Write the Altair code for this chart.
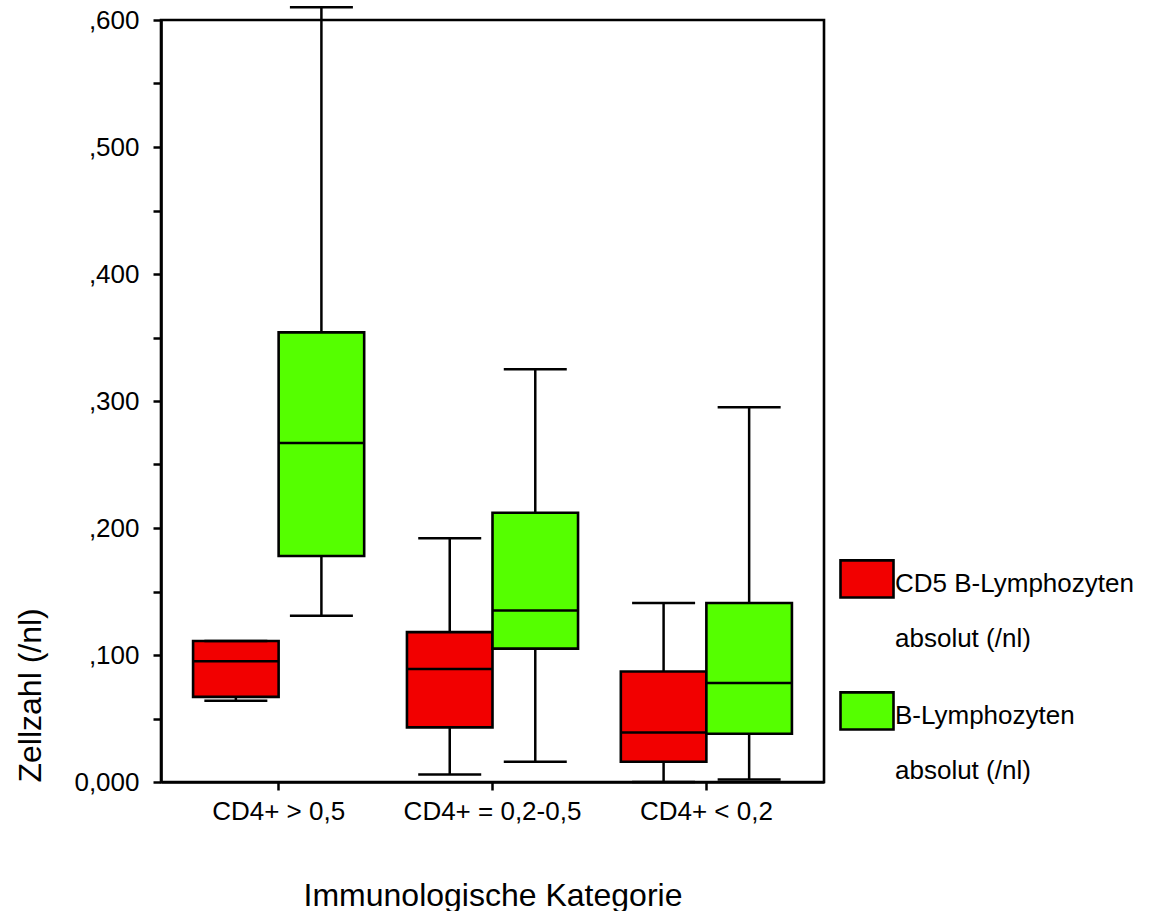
import altair as alt
import pandas as pd

categories = ["CD4+ > 0,5", "CD4+ = 0,2-0,5", "CD4+ < 0,2"]
series = ["CD5 B-Lymphozyten absolut (/nl)", "B-Lymphozyten absolut (/nl)"]
colors = ["#F20000", "#55FF00"]

# box statistics per series, one value per category
cd5_low = [0.064, 0.006, 0.000]
cd5_q1 = [0.067, 0.043, 0.016]
cd5_med = [0.095, 0.089, 0.039]
cd5_q3 = [0.111, 0.118, 0.087]
cd5_high = [0.111, 0.192, 0.141]

b_low = [0.131, 0.016, 0.002]
b_q1 = [0.178, 0.105, 0.038]
b_med = [0.267, 0.135, 0.078]
b_q3 = [0.354, 0.212, 0.141]
b_high = [0.610, 0.325, 0.295]

y_ticks = [0.0, 0.05, 0.1, 0.15, 0.2, 0.25, 0.3, 0.35, 0.4, 0.45, 0.5, 0.55, 0.6]

rows = []
for s, (lo, q1, md, q3, hi) in zip(
    series,
    [(cd5_low, cd5_q1, cd5_med, cd5_q3, cd5_high), (b_low, b_q1, b_med, b_q3, b_high)],
):
    for i, c in enumerate(categories):
        rows.append({"cat": c, "series": s, "low": lo[i], "q1": q1[i],
                     "med": md[i], "q3": q3[i], "high": hi[i]})
df = pd.DataFrame(rows)

FONT = "Liberation Sans"

x_enc = alt.X(
    "cat:N",
    sort=categories,
    scale=alt.Scale(paddingInner=0.2, paddingOuter=0.15),
    axis=alt.Axis(
        title="Immunologische Kategorie",
        labelAngle=0,
        labelFontSize=26,
        labelPadding=8,
        tickSize=8,
        titleFontSize=32,
        titleFontWeight="normal",
        titlePadding=56,
    ),
)
xoff_enc = alt.XOffset(
    "series:N", sort=series, scale=alt.Scale(domain=series, paddingInner=0, paddingOuter=0)
)

y_scale = alt.Scale(domain=[0, 0.6], nice=False, zero=True)
y_axis = alt.Axis(
    title="Zellzahl (/nl)",
    values=y_ticks,
    labelExpr="round(datum.value*100) % 10 == 0 ? (datum.value == 0 ? '0,000' : replace(format(datum.value, '.3f'), '0.', ',')) : ''",
    labelFontSize=26,
    labelPadding=14,
    tickSize=8,
    titleFontSize=32,
    titleFontWeight="normal",
    titleAnchor="start",
    titlePadding=26,
    grid=False,
)

base = alt.Chart(df)

whisker = base.mark_rule(color="black", strokeWidth=2.5).encode(
    x=x_enc, xOffset=xoff_enc,
    y=alt.Y("low:Q", scale=y_scale, axis=y_axis),
    y2="high:Q",
)

box = base.mark_bar(stroke="black", strokeWidth=2.6).encode(
    x=x_enc, xOffset=xoff_enc,
    y=alt.Y("q1:Q", scale=y_scale, axis=y_axis),
    y2="q3:Q",
    color=alt.Color(
        "series:N",
        sort=series,
        scale=alt.Scale(domain=series, range=colors),
        legend=alt.Legend(
            title=None,
            orient="none",
            legendX=678,
            legendY=523,
            symbolType="M-1,-0.4L1,-0.4L1,1L-1,1Z",
            symbolSize=2809,
            symbolStrokeColor="black",
            symbolStrokeWidth=2.6,
            symbolOpacity=1,
            labelFontSize=26,
            labelOffset=0,
            labelBaseline="top",
            labelLimit=400,
            labelExpr="[replace(datum.label, ' absolut (/nl)', ''), 'absolut (/nl)']",
            rowPadding=23,
            padding=0,
        ),
    ),
)

median = base.mark_tick(color="black", thickness=2.5, size=86, opacity=1).encode(
    x=x_enc, xOffset=xoff_enc,
    y=alt.Y("med:Q", scale=y_scale, axis=y_axis),
)

cap_low = base.mark_tick(color="black", thickness=2.5, size=63, opacity=1).encode(
    x=x_enc, xOffset=xoff_enc,
    y=alt.Y("low:Q", scale=y_scale, axis=y_axis),
)
cap_high = base.mark_tick(color="black", thickness=2.5, size=63, opacity=1).encode(
    x=x_enc, xOffset=xoff_enc,
    y=alt.Y("high:Q", scale=y_scale, axis=y_axis),
)

chart = (
    alt.layer(whisker, box, median, cap_low, cap_high)
    .properties(width=663, height=762, padding={"left": 14, "top": 6, "right": 4, "bottom": 0})
    .configure(background="white", style={"guide-label": {"lineHeight": 55}})
    .configure_view(stroke="black", strokeWidth=2.6)
    .configure_axis(
        labelFont=FONT, titleFont=FONT, labelColor="black", titleColor="black",
        domainColor="black", domainWidth=2.6, tickColor="black", tickWidth=2.5,
        titleFontWeight="normal",
    )
    .configure_legend(labelFont=FONT, labelColor="black")
)

chart.save("out.html", embed_options={"renderer": "svg", "actions": False})
